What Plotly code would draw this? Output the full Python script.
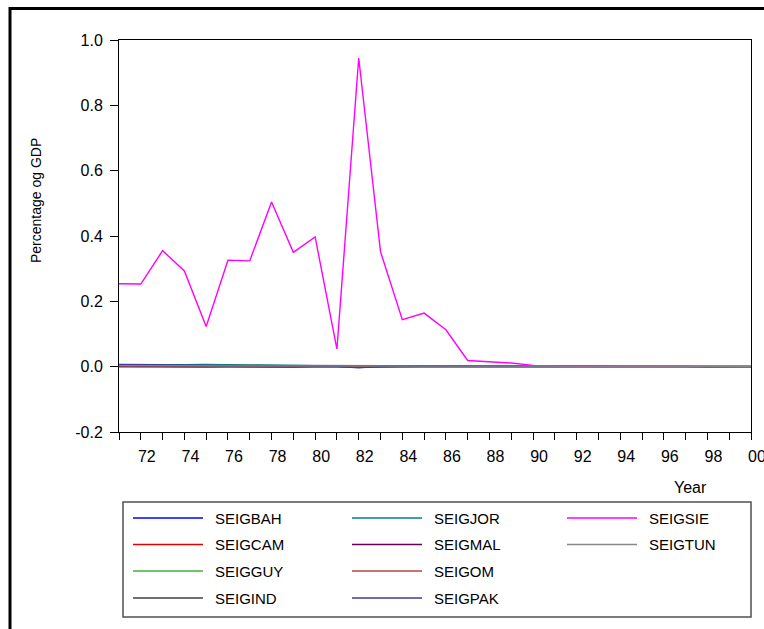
import plotly.graph_objects as go

# ---------------- data ----------------
years = list(range(1971, 2001))

series_names = ["SEIGBAH", "SEIGCAM", "SEIGGUY", "SEIGIND", "SEIGJOR",
                "SEIGMAL", "SEIGOM", "SEIGPAK", "SEIGSIE", "SEIGTUN"]

seig_bah = [0.002, 0.001, 0.001, 0.000, -0.001, 0.001, 0.001, 0.001, 0.001, 0.001,
            0.001, 0.000, 0.001, 0.001, 0.001, 0.001, 0.000, 0.000, 0.000, 0.000,
            0.000, 0.000, 0.000, 0.000, 0.000, 0.000, 0.000, 0.000, 0.000, 0.000]
seig_cam = [0.000, -0.001, 0.000, -0.001, 0.000, -0.001, -0.001, -0.002, -0.002, -0.001,
            -0.001, 0.000, 0.000, 0.000, 0.000, 0.000, 0.000, 0.000, 0.000, 0.000,
            0.000, 0.000, 0.000, 0.000, 0.000, 0.000, 0.000, 0.000, 0.000, 0.000]
seig_guy = [0.002, 0.002, 0.003, 0.003, 0.002, 0.002, 0.002, 0.002, 0.002, 0.002,
            0.002, 0.002, 0.003, 0.003, 0.003, 0.003, 0.003, 0.002, 0.001, 0.000,
            0.000, 0.000, 0.000, 0.000, 0.000, 0.000, 0.000, 0.000, 0.000, 0.000]
seig_ind = [0.007, 0.007, 0.006, 0.006, 0.005, 0.005, 0.005, 0.004, 0.004, 0.004,
            0.004, 0.003, 0.003, 0.003, 0.003, 0.003, 0.003, 0.003, 0.002, 0.002,
            0.002, 0.002, 0.002, 0.001, 0.001, 0.001, 0.001, 0.001, 0.001, 0.001]
seig_jor = [0.004, 0.004, 0.005, 0.006, 0.007, 0.006, 0.004, 0.003, 0.003, 0.003,
            0.003, 0.002, 0.002, 0.002, 0.002, 0.002, 0.002, 0.001, 0.001, 0.001,
            0.001, 0.001, 0.001, 0.001, 0.001, 0.001, 0.001, 0.001, 0.001, 0.001]
seig_mal = [0.001, 0.001, 0.001, 0.001, 0.001, 0.001, 0.001, 0.001, 0.001, 0.001,
            0.000, -0.002, 0.000, 0.000, 0.001, 0.001, 0.001, 0.001, 0.001, 0.001,
            0.001, 0.001, 0.001, 0.001, 0.001, 0.001, 0.001, 0.001, 0.001, 0.001]
seig_om = [-0.001, -0.001, -0.001, -0.001, -0.001, -0.001, -0.001, -0.002, -0.002, -0.002,
           -0.002, -0.001, -0.001, -0.001, -0.001, -0.001, -0.001, -0.001, 0.000, 0.000,
           0.000, 0.000, 0.000, 0.000, 0.000, 0.000, 0.000, 0.000, 0.000, 0.000]
seig_pak = [0.006, 0.005, 0.005, 0.003, 0.002, 0.003, 0.003, 0.002, 0.002, 0.002,
            0.001, -0.004, 0.001, 0.001, 0.000, 0.001, 0.001, 0.001, 0.000, 0.000,
            0.000, 0.000, 0.000, 0.000, 0.000, 0.000, 0.000, 0.000, 0.000, 0.000]
seig_sie = [0.254, 0.253, 0.355, 0.293, 0.123, 0.326, 0.324, 0.504, 0.350, 0.397,
            0.054, 0.945, 0.352, 0.144, 0.164, 0.113, 0.019, 0.015, 0.011, 0.004,
            0.002, 0.001, 0.001, 0.001, 0.001, 0.001, 0.001, -0.002, 0.000, 0.000]
seig_tun = [0.003, 0.003, 0.003, 0.003, 0.003, 0.002, 0.002, 0.002, 0.002, 0.002,
            0.002, 0.002, 0.002, 0.002, 0.002, 0.002, 0.002, 0.001, 0.001, 0.001,
            0.001, 0.001, 0.001, 0.001, 0.001, 0.001, 0.001, 0.001, 0.001, 0.001]

series_values = [seig_bah, seig_cam, seig_guy, seig_ind, seig_jor,
                 seig_mal, seig_om, seig_pak, seig_sie, seig_tun]

y_ticks = [-0.2, 0.0, 0.2, 0.4, 0.6, 0.8, 1.0]
y_ticktext = ["-0.2", "0.0", "0.2", "0.4", "0.6", "0.8", "1.0"]
x_tickvals = years
x_ticktext = [f"{y % 100:02d}" if y % 2 == 0 else "" for y in years]

# ---------------- style ----------------
colors = ["#0000FF", "#E00000", "#40B040", "#404040", "#008080",
          "#600060", "#B04848", "#3C3C9C", "#FF00FF", "#888888"]
widths = [1.2, 1.2, 1.2, 1.2, 1.2, 1.2, 1.2, 1.2, 1.4, 1.2]

FONT = "Liberation Sans Narrow, Arial Narrow, Liberation Sans, Arial, sans-serif"
W, H = 764, 629
L, R, T, B = 119, 751, 40, 432
PW, PH = R - L, B - T


def px(x):
    return (x - L) / PW


def py(y):
    return (B - y) / PH


fig = go.Figure()
for name, vals, c, w in zip(series_names, series_values, colors, widths):
    fig.add_trace(go.Scatter(x=years, y=vals, mode="lines", name=name,
                             line=dict(color=c, width=w), showlegend=False))

shapes = []
annotations = []

# outer frame (partly cut off)
shapes.append(dict(type="rect", xref="paper", yref="paper",
                   x0=px(10), x1=px(800), y0=py(8.5), y1=py(700),
                   line=dict(color="black", width=3)))

# manual legend box
shapes.append(dict(type="rect", xref="paper", yref="paper",
                   x0=px(123), x1=px(751), y0=py(502), y1=py(617),
                   line=dict(color="#505050", width=1.5)))

col_line_x = [133, 352, 567]
col_text_x = [213, 432, 647]
row_y = [518, 544.5, 571, 598]
n_rows = 4
for i, (name, c) in enumerate(zip(series_names, colors)):
    col, row = divmod(i, n_rows)
    yy = row_y[row]
    x0 = col_line_x[col]
    shapes.append(dict(type="line", xref="paper", yref="paper",
                       x0=px(x0), x1=px(x0 + 70), y0=py(yy), y1=py(yy),
                       line=dict(color=c, width=1.5)))
    annotations.append(dict(xref="paper", yref="paper", x=px(col_text_x[col]), y=py(yy),
                            text=name, showarrow=False, xanchor="left", yanchor="middle",
                            font=dict(family=FONT, size=15, color="black")))

# axis titles
annotations.append(dict(xref="paper", yref="paper", x=px(690), y=py(487), text="Year",
                        showarrow=False, xanchor="center", yanchor="middle",
                        font=dict(family=FONT, size=16, color="black")))
annotations.append(dict(xref="paper", yref="paper", x=px(36), y=py(201),
                        text="Percentage og GDP", textangle=-90,
                        showarrow=False, xanchor="center", yanchor="middle",
                        font=dict(family=FONT, size=14, color="black")))

fig.update_layout(
    width=W, height=H, autosize=False,
    margin=dict(l=L, r=W - R, t=T, b=H - B, pad=0, autoexpand=False),
    paper_bgcolor="white", plot_bgcolor="white",
    font=dict(family=FONT, size=16, color="black"),
    showlegend=False,
    shapes=shapes, annotations=annotations,
)
fig.update_xaxes(range=[1971, 2000], tickvals=x_tickvals, ticktext=x_ticktext,
                 ticks="outside", ticklen=7, tickcolor="black", tickwidth=1,
                 ticklabelshift=6, ticklabelstandoff=3, ticklabeloverflow="allow",
                 automargin=False,
                 showline=True, linecolor="black", linewidth=1, mirror=True,
                 showgrid=False, zeroline=False)
fig.update_yaxes(range=[-0.2, 1.0], tickvals=y_ticks, ticktext=y_ticktext,
                 ticks="outside", ticklen=8, tickcolor="black", tickwidth=1,
                 ticklabelstandoff=4, automargin=False,
                 showline=True, linecolor="black", linewidth=1, mirror=True,
                 showgrid=False, zeroline=False)

fig.write_html("out.html", config={"displayModeBar": False},
               post_script="document.body.style.margin='0';document.body.style.overflow='hidden';")
